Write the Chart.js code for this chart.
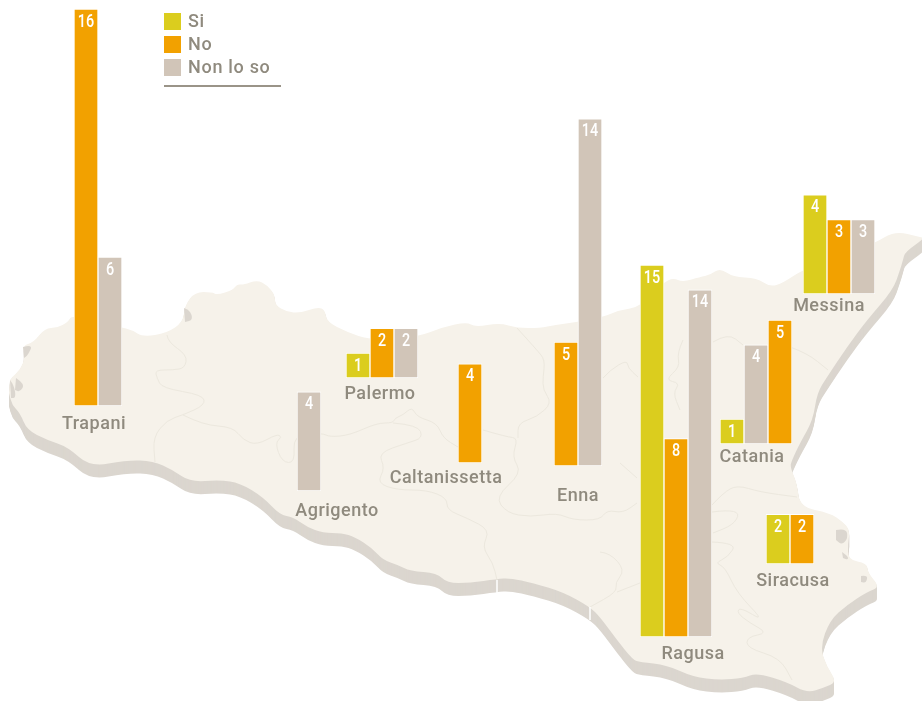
<!DOCTYPE html>
<html lang="it">
<head>
<meta charset="utf-8">
<title>Sicilia</title>
<script src="https://cdn.jsdelivr.net/npm/chart.js@4"></script>
<style>
    html, body { margin: 0; padding: 0; background: #fff; overflow: hidden; }
    #pagina { position: relative; width: 922px; height: 701px; overflow: hidden; font-family: Roboto, Arial, sans-serif; color: #8f8a7e; }
    #mappa { position: absolute; left: 0; top: 0; }
    .grafico { position: absolute; }
    .provincia { position: absolute; font-size: 18px; font-weight: 500; letter-spacing: 0.5px; line-height: 22px; transform: translateX(-50%); white-space: nowrap; }
    .voce { position: absolute; left: 188px; font-size: 18px; font-weight: 500; letter-spacing: 0.7px; line-height: 22px; white-space: nowrap; }
    .quadrato { position: absolute; left: 164px; width: 17px; height: 17px; }
    #riga { position: absolute; left: 164px; top: 85px; width: 117px; height: 2px; background: #9a9488; }
</style>
</head>
<body>
<div id="pagina">
    <canvas id="mappa" width="922" height="701"></canvas>
</div>
<script>
// dati
const province = ['Trapani', 'Palermo', 'Agrigento', 'Caltanissetta', 'Enna', 'Ragusa', 'Messina', 'Catania', 'Siracusa'];
const serie = ['Si', 'No', 'Non lo so'];
const si = [null, 1, null, null, null, 15, 4, 1, 2];
const no = [16, 2, null, 4, 5, 8, 3, 5, 2];
const nonLoSo = [6, 2, 4, null, 14, 14, 3, 4, null];

const coloriSerie = ['#dbcd1e', '#f2a100', '#d1c5b8'];
const UNITA = 24.8;
const PASSO = 24;

// posizione di ogni gruppo sulla mappa
const sinistra = [74, 346, 297, 458, 554, 640, 803, 720, 766];
const base = [406, 378, 491, 463, 466, 637, 294, 444, 564];
const etichettaX = [94, 380, 337, 446, 578, 693, 829, 752, 793];
const etichettaY = [412, 382, 499, 466, 484, 642, 294, 445, 569];
// Catania ha le barre in ordine diverso
const ordine = [[0, 1, 2], [0, 1, 2], [0, 1, 2], [0, 1, 2], [0, 1, 2], [0, 1, 2], [0, 1, 2], [0, 2, 1], [0, 1, 2]];

const costa = [
    [10, 380], [12, 377], [20, 370], [25, 358], [23, 345], [33, 343], [45, 328], [57, 328], [68, 322], [72, 315],
    [100, 322], [120, 327], [132, 330], [143, 337], [167, 333], [183, 322], [185, 305], [195, 292], [212, 292], [217, 295],
    [233, 290], [237, 284], [243, 285], [257, 280], [267, 285], [275, 295], [275, 305], [287, 312], [300, 313], [318, 307],
    [325, 310], [327, 322], [347, 332], [370, 340], [418, 337], [443, 327], [467, 322], [475, 327], [500, 323], [517, 328],
    [540, 328], [555, 325], [577, 322], [603, 317], [620, 310], [640, 307], [663, 283], [673, 278], [683, 282], [700, 277],
    [710, 275], [720, 268], [733, 277], [757, 278], [770, 287], [783, 283], [802, 270], [830, 262], [875, 243], [895, 231],
    [920, 237], [925, 238], [905, 252], [903, 260], [900, 270], [893, 290], [867, 320], [847, 347], [827, 377], [817, 393],
    [813, 420], [800, 443], [792, 460], [790, 467], [797, 483], [800, 507], [830, 513], [843, 522], [850, 530], [848, 543],
    [848, 560], [867, 563], [868, 573], [880, 587], [867, 592], [847, 605], [830, 620], [820, 647], [827, 667], [837, 682],
    [823, 688], [807, 693], [787, 682], [757, 673], [743, 678], [720, 680], [693, 677], [667, 665], [640, 662], [633, 660],
    [617, 640], [600, 617], [590, 607], [563, 592], [533, 583], [510, 578], [497, 579], [470, 583], [447, 583], [437, 573],
    [410, 571], [398, 565], [383, 560], [372, 548], [355, 537], [342, 533], [323, 533], [307, 527], [293, 517], [280, 515],
    [263, 497], [240, 483], [220, 480], [190, 482], [173, 470], [153, 461], [127, 460], [90, 467], [68, 447], [47, 440],
    [27, 430], [20, 413], [12, 405], [9, 393]
];

const confini = [
    [[167, 335], [168, 342], [187, 355], [185, 368], [173, 370], [155, 370], [157, 378], [162, 388], [203, 395], [205, 405], [183, 415], [167, 420], [153, 437], [155, 462]],
    [[183, 415], [203, 425], [233, 427], [243, 440], [257, 445], [277, 434], [282, 437], [275, 443], [282, 462], [295, 463], [293, 435], [322, 433], [330, 437], [350, 435], [377, 423], [393, 423], [395, 418], [403, 415], [412, 407], [417, 417], [437, 423], [443, 438], [458, 447]],
    [[393, 423], [418, 425], [423, 438], [407, 443], [378, 453], [385, 468], [377, 483], [397, 490], [427, 490], [447, 498], [447, 510], [467, 518], [490, 530], [482, 547], [493, 563], [497, 580]],
    [[483, 430], [507, 437], [518, 438], [512, 457], [522, 473], [495, 497], [507, 513], [530, 517], [557, 513], [573, 520], [600, 520], [607, 510], [623, 513], [637, 503]],
    [[517, 328], [537, 350], [545, 360], [543, 377], [543, 390], [552, 403], [537, 417], [518, 423], [518, 438]],
    [[603, 378], [610, 370], [627, 360], [628, 368], [638, 377]],
    [[713, 342], [728, 333], [743, 345]],
    [[790, 347], [807, 353], [828, 370]],
    [[683, 340], [677, 353], [680, 367], [665, 380], [680, 383], [673, 393], [680, 410]],
    [[620, 463], [637, 478]],
    [[600, 552], [610, 553], [625, 570], [615, 583], [617, 592], [590, 607]],
    [[617, 592], [640, 583]],
    [[712, 505], [723, 493], [737, 485], [760, 492], [797, 497]],
    [[712, 512], [727, 510], [740, 513], [733, 525], [713, 533]],
    [[712, 542], [737, 543], [728, 557], [715, 563], [725, 567], [737, 593], [765, 622], [740, 607], [737, 613], [750, 623], [768, 633], [747, 637], [747, 648], [780, 658], [792, 680]]
];

const saline = [
    [[23, 347], [33, 344], [28, 355], [24, 358]],
    [[16, 378], [25, 384], [20, 392], [15, 390]],
    [[10, 380], [14, 385], [16, 398], [11, 398]],
    [[184, 308], [190, 310], [193, 320], [185, 322]],
    [[836, 530], [846, 528], [848, 538], [842, 545], [836, 540]],
    [[842, 552], [848, 556], [848, 560], [843, 558]],
    [[861, 576], [868, 575], [866, 583], [861, 582]]
];

function tracciaCurva(ctx, punti, dy) {
    ctx.beginPath();
    ctx.moveTo(punti[0][0], punti[0][1] + dy);
    for (let i = 1; i < punti.length - 1; i++) {
        const mx = (punti[i][0] + punti[i + 1][0]) / 2;
        const my = (punti[i][1] + punti[i + 1][1]) / 2;
        ctx.quadraticCurveTo(punti[i][0], punti[i][1] + dy, mx, my + dy);
    }
    const ultimo = punti[punti.length - 1];
    ctx.lineTo(ultimo[0], ultimo[1] + dy);
}

function disegnaMappa() {
    const ctx = document.getElementById('mappa').getContext('2d');

    // spessore della costa
    ctx.fillStyle = '#dbd6cf';
    for (let dy = 13; dy > 0; dy--) {
        tracciaCurva(ctx, costa, dy);
        ctx.closePath();
        ctx.fill();
    }

    tracciaCurva(ctx, costa, 0);
    ctx.closePath();
    ctx.fillStyle = '#f6f2ea';
    ctx.fill();

    ctx.strokeStyle = '#ece8de';
    ctx.lineWidth = 1;
    ctx.lineJoin = 'round';
    confini.forEach(function (linea) {
        tracciaCurva(ctx, linea, 0);
        ctx.stroke();
    });

    ctx.fillStyle = '#dbd6cf';
    saline.forEach(function (zona) {
        tracciaCurva(ctx, zona, 0);
        ctx.closePath();
        ctx.fill();
    });

    // tagli bianchi nella costa
    ctx.strokeStyle = '#ffffff';
    ctx.lineWidth = 1.5;
    [[497, 580, 593], [590, 607, 620]].forEach(function (t) {
        ctx.beginPath();
        ctx.moveTo(t[0], t[1]);
        ctx.lineTo(t[0], t[2]);
        ctx.stroke();
    });
}

const etichetteValori = {
    id: 'etichetteValori',
    afterDatasetsDraw: function (chart) {
        const ctx = chart.ctx;
        const meta = chart.getDatasetMeta(0);
        meta.data.forEach(function (barra, i) {
            ctx.save();
            // cifre strette come nell'originale
            ctx.translate(barra.x, barra.y + 13);
            ctx.scale(0.8, 1);
            ctx.font = '500 18px Roboto, Arial';
            ctx.fillStyle = '#ffffff';
            ctx.textAlign = 'center';
            ctx.textBaseline = 'middle';
            ctx.fillText(chart.data.datasets[0].data[i], 0, 0);
            ctx.restore();
        });
    }
};

function creaGrafico(p) {
    const valoriProvincia = [si[p], no[p], nonLoSo[p]];
    const indici = ordine[p].filter(function (s) {
        return valoriProvincia[s] !== null;
    });
    const valori = indici.map(function (s) { return valoriProvincia[s]; });
    const altezza = Math.ceil(Math.max(...valori) * UNITA) + 2;

    const canvas = document.createElement('canvas');
    canvas.className = 'grafico';
    canvas.width = indici.length * PASSO;
    canvas.height = altezza;
    canvas.style.left = sinistra[p] + 'px';
    canvas.style.top = (base[p] - altezza) + 'px';
    document.getElementById('pagina').appendChild(canvas);

    new Chart(canvas.getContext('2d'), {
        type: 'bar',
        data: {
            labels: indici.map(function (s) { return serie[s]; }),
            datasets: [{
                label: province[p],
                data: valori,
                backgroundColor: indici.map(function (s) { return coloriSerie[s]; }),
                borderColor: '#ffffff',
                borderWidth: 1,
                borderSkipped: false,
                barPercentage: 1,
                categoryPercentage: 1
            }]
        },
        plugins: [etichetteValori],
        options: {
            responsive: false,
            animation: false,
            devicePixelRatio: 1,
            layout: { padding: 0 },
            events: [],
            scales: {
                x: { display: false },
                y: { display: false, min: 0, max: altezza / UNITA }
            },
            plugins: {
                legend: { display: false },
                tooltip: { enabled: false }
            }
        }
    });

    const nome = document.createElement('div');
    nome.className = 'provincia';
    nome.textContent = province[p];
    nome.style.left = etichettaX[p] + 'px';
    nome.style.top = etichettaY[p] + 'px';
    document.getElementById('pagina').appendChild(nome);
}

function creaLegenda() {
    const pagina = document.getElementById('pagina');
    const alto = [13, 36, 59];
    serie.forEach(function (voce, i) {
        const quadrato = document.createElement('div');
        quadrato.className = 'quadrato';
        quadrato.style.top = alto[i] + 'px';
        quadrato.style.background = coloriSerie[i];
        pagina.appendChild(quadrato);

        const testo = document.createElement('div');
        testo.className = 'voce';
        testo.style.top = (alto[i] - 3) + 'px';
        testo.textContent = voce;
        pagina.appendChild(testo);
    });
    const riga = document.createElement('div');
    riga.id = 'riga';
    pagina.appendChild(riga);
}

disegnaMappa();
province.forEach(function (nome, p) { creaGrafico(p); });
creaLegenda();
</script>
</body>
</html>
